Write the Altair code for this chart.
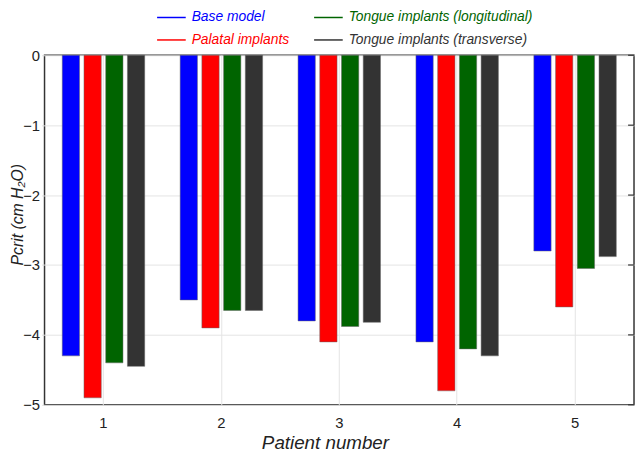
import altair as alt
import pandas as pd

patients = ["1", "2", "3", "4", "5"]
series = ["Base model", "Palatal implants",
          "Tongue implants (longitudinal)", "Tongue implants (transverse)"]
colors = ["#0000ff", "#ff0000", "#006400", "#333333"]

base_model = [-4.3, -3.5, -3.8, -4.1, -2.8]
palatal = [-4.9, -3.9, -4.1, -4.8, -3.6]
tongue_long = [-4.4, -3.65, -3.88, -4.2, -3.05]
tongue_trans = [-4.45, -3.65, -3.82, -4.3, -2.88]

y_ticks = [0, -1, -2, -3, -4, -5]

rows = []
for s, vals in zip(series, [base_model, palatal, tongue_long, tongue_trans]):
    for p, v in zip(patients, vals):
        rows.append({"patient": p, "series": s, "pcrit": v})
df = pd.DataFrame(rows)

color_expr = ""
for s, c in zip(series[:-1], colors[:-1]):
    color_expr += f"datum.value === '{s}' ? '{c}' : "
color_expr += f"'{colors[-1]}'"

W, H = 597, 354
FONT = "Liberation Sans"

bars = alt.Chart(df).mark_bar(stroke="#666666", strokeWidth=0.5).encode(
    x=alt.X("patient:N", sort=patients,
            scale=alt.Scale(paddingInner=0, paddingOuter=0),
            axis=alt.Axis(title="Patient number", labelAngle=0, bandPosition=0.5,
                          grid=True, gridColor="#e4e4e4", gridWidth=1,
                          ticks=False, domain=False, labelPadding=11,
                          labelFont=FONT, labelFontSize=15, labelColor="#222222",
                          titleFont=FONT, titleFontStyle="italic", titleFontSize=19,
                          titleFontWeight="normal", titleColor="#222222",
                          titleX=284, titleY=44, titleAlign="center",
                          titleBaseline="alphabetic")),
    xOffset=alt.XOffset("series:N", sort=series,
                        scale=alt.Scale(paddingInner=0.205, paddingOuter=0.816)),
    y=alt.Y("pcrit:Q", scale=alt.Scale(domain=[-5, 0], nice=False, zero=True),
            axis=alt.Axis(title="Pcrit (cm H₂O)", values=y_ticks, format="d",
                          grid=True, gridColor="#e4e4e4", gridWidth=1,
                          ticks=True, tickColor="#dddddd", tickSize=3,
                          domain=False, labelPadding=2,
                          labelFont=FONT, labelFontSize=15, labelColor="#222222",
                          titleFont=FONT, titleFontStyle="italic", titleFontSize=16,
                          titleFontWeight="normal", titleColor="#222222",
                          titleAngle=270, titleX=-22, titleY=161,
                          titleAlign="center", titleBaseline="alphabetic")),
    color=alt.Color("series:N",
                    scale=alt.Scale(domain=series, range=colors),
                    legend=alt.Legend(
                        title=None, orient="none", legendX=113, legendY=-54,
                        columns=2, symbolType="stroke", symbolSize=841,
                        symbolStrokeWidth=1.5, labelFont=FONT,
                        labelFontStyle="italic", labelFontSize=14, labelOffset=5,
                        labelLimit=400,
                        columnPadding=22, rowPadding=-7, padding=0,
                        labelColor=alt.ExprRef(color_expr),
                        symbolStrokeColor=alt.ExprRef(color_expr),
                    )),
)

ticks_df = pd.DataFrame({"v": y_ticks})
right_ticks = alt.Chart(ticks_df).mark_rule(color="#333333", strokeWidth=1.2).encode(
    y="v:Q", x=alt.value(W - 6), x2=alt.value(W)
)

chart = alt.layer(bars, right_ticks).properties(
    width=W, height=H,
    autosize=alt.AutoSizeParams(type="none"),
    padding={"left": 37, "top": 45, "right": 1, "bottom": 50},
).configure_view(stroke="#333333", strokeWidth=1.5)

chart.save("out.html", embed_options={"renderer": "svg", "actions": False})
